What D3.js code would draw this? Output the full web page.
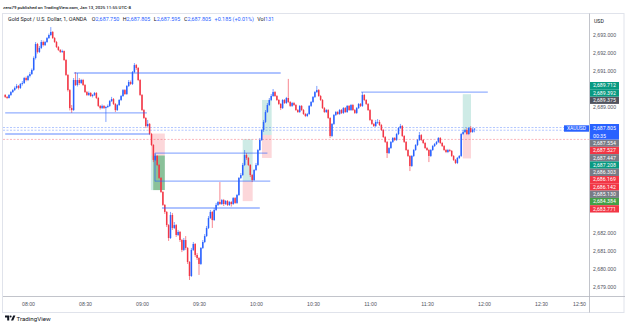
<!DOCTYPE html>
<html>
<head>
<meta charset="utf-8">
<script src="https://cdn.jsdelivr.net/npm/d3@7"></script>
<style>
  html, body { margin: 0; padding: 0; background: #fff; }
  svg { display: block; font-family: Roboto, "Liberation Sans", sans-serif; }
</style>
</head>
<body>
<svg id="chart" width="625" height="326"></svg>
<script>
var startTime = "07:48:00";
var firstOpen = 2689.67;

var closes = [
  2689.56, 2689.50, 2689.67, 2689.83, 2689.94, 2690.06, 2690.17, 2690.06, 2690.28, 2690.33,
  2690.61, 2690.50, 2690.72, 2690.83, 2691.06, 2691.72, 2692.50, 2692.06, 2692.28, 2692.61,
  2692.44, 2692.61, 2692.83, 2693.00, 2693.17, 2692.83, 2692.61, 2692.33, 2692.17, 2692.06,
  2692.11, 2691.61, 2690.78, 2689.94, 2688.94, 2688.83, 2690.50, 2690.22, 2690.50, 2690.33,
  2690.50, 2690.22, 2689.83, 2689.67, 2689.78, 2689.61, 2689.67, 2689.78, 2689.50, 2689.06,
  2688.94, 2689.06, 2688.94, 2689.00, 2689.06, 2689.33, 2689.44, 2689.17, 2688.83, 2689.11,
  2689.39, 2689.61, 2689.94, 2689.72, 2690.17, 2690.39, 2690.28, 2690.94, 2691.33, 2691.17,
  2690.50, 2689.67, 2688.83, 2688.39, 2687.94, 2688.06, 2687.50, 2686.89, 2686.06, 2686.28,
  2685.78, 2685.06, 2684.28, 2683.56, 2683.17, 2682.44, 2681.72, 2683.00, 2682.28, 2682.44,
  2681.89, 2682.06, 2681.61, 2681.06, 2681.61, 2681.17, 2680.39, 2679.61, 2681.06, 2681.39,
  2680.78, 2680.61, 2680.28, 2681.17, 2681.50, 2681.83, 2682.28, 2682.83, 2683.17, 2682.72,
  2683.28, 2683.56, 2683.72, 2683.61, 2683.83, 2683.61, 2683.78, 2683.56, 2683.72, 2683.61,
  2683.94, 2683.67, 2684.11, 2685.06, 2685.22, 2685.78, 2686.33, 2686.17, 2685.78, 2685.22,
  2684.94, 2685.50, 2685.78, 2686.61, 2687.17, 2687.72, 2688.17, 2688.72, 2689.11, 2689.39,
  2689.61, 2689.83, 2689.61, 2689.39, 2689.17, 2688.94, 2689.39, 2689.22, 2689.50, 2689.28,
  2689.06, 2689.22, 2689.11, 2688.83, 2688.72, 2689.06, 2688.83, 2688.61, 2688.50, 2688.61,
  2689.06, 2689.28, 2689.56, 2689.83, 2689.94, 2689.61, 2689.39, 2688.94, 2688.72, 2688.83,
  2688.39, 2687.39, 2688.06, 2688.56, 2688.72, 2688.61, 2688.83, 2688.67, 2688.94, 2688.72,
  2689.06, 2688.83, 2689.11, 2688.83, 2688.67, 2688.94, 2689.17, 2689.06, 2689.67, 2689.39,
  2689.17, 2688.83, 2688.28, 2688.06, 2687.94, 2688.17, 2688.17, 2688.00, 2687.72, 2687.33,
  2687.06, 2686.44, 2686.72, 2687.06, 2687.28, 2687.17, 2687.50, 2687.83, 2687.94, 2687.39,
  2687.06, 2686.61, 2686.28, 2685.72, 2686.28, 2686.61, 2686.89, 2687.17, 2687.44, 2687.17,
  2687.00, 2686.72, 2686.61, 2686.28, 2686.61, 2686.83, 2686.94, 2687.06, 2687.28, 2687.00,
  2686.83, 2686.61, 2686.50, 2686.61, 2686.56, 2686.28, 2686.06, 2685.89, 2686.17, 2686.28,
  2687.50, 2687.61, 2687.72, 2687.50, 2687.83, 2687.61, 2687.75, 2687.805
];

var highs = [
  2689.72, 2689.61, 2689.72, 2689.89, 2690.00, 2690.14, 2690.28, 2690.22, 2690.33, 2690.44,
  2690.67, 2690.69, 2690.78, 2690.94, 2691.14, 2691.81, 2692.61, 2692.56, 2692.39, 2692.72,
  2692.69, 2692.67, 2692.89, 2693.08, 2693.44, 2693.22, 2692.89, 2692.67, 2692.39, 2692.22,
  2692.19, 2692.14, 2691.67, 2690.83, 2690.00, 2689.11, 2690.61, 2690.94, 2690.89, 2690.61,
  2690.56, 2690.56, 2690.28, 2689.89, 2689.86, 2689.83, 2689.72, 2689.83, 2689.83, 2689.56,
  2689.11, 2689.14, 2689.11, 2689.06, 2689.14, 2689.39, 2689.56, 2689.50, 2689.22, 2689.17,
  2689.44, 2689.67, 2690.00, 2690.00, 2690.22, 2690.50, 2690.47, 2691.00, 2691.44, 2691.39,
  2691.22, 2690.56, 2689.72, 2688.89, 2688.44, 2688.28, 2688.11, 2687.56, 2686.94, 2686.39,
  2686.33, 2685.83, 2685.11, 2684.33, 2683.61, 2683.22, 2682.50, 2683.17, 2683.11, 2682.61,
  2682.50, 2682.17, 2682.11, 2681.67, 2681.72, 2681.83, 2681.22, 2680.44, 2681.17, 2681.50,
  2681.44, 2680.89, 2680.67, 2681.22, 2681.61, 2681.94, 2682.39, 2682.94, 2683.28, 2683.22,
  2683.39, 2683.67, 2683.78, 2684.83, 2683.89, 2683.89, 2683.83, 2683.83, 2683.78, 2683.78,
  2684.00, 2684.00, 2684.17, 2685.11, 2685.33, 2685.89, 2686.61, 2686.44, 2686.22, 2685.83,
  2685.28, 2685.56, 2685.89, 2686.67, 2687.28, 2687.78, 2688.28, 2688.83, 2689.22, 2689.50,
  2689.72, 2690.00, 2689.89, 2689.67, 2689.44, 2689.22, 2689.44, 2689.44, 2689.56, 2690.56,
  2689.33, 2689.28, 2689.28, 2689.17, 2688.89, 2689.11, 2689.11, 2688.89, 2688.67, 2688.67,
  2689.11, 2689.33, 2689.61, 2689.89, 2690.17, 2690.00, 2689.67, 2689.44, 2689.00, 2688.89,
  2688.89, 2688.44, 2688.11, 2688.61, 2688.78, 2688.78, 2688.89, 2688.89, 2689.00, 2689.00,
  2689.11, 2689.11, 2689.17, 2689.17, 2688.89, 2689.00, 2689.22, 2689.22, 2689.83, 2689.72,
  2689.44, 2689.22, 2688.89, 2688.33, 2688.11, 2688.28, 2688.33, 2688.28, 2688.06, 2687.78,
  2687.39, 2687.11, 2686.78, 2687.11, 2687.33, 2687.33, 2687.56, 2687.89, 2688.06, 2688.00,
  2687.44, 2687.11, 2686.67, 2686.33, 2686.33, 2686.67, 2686.94, 2687.22, 2687.61, 2687.50,
  2687.22, 2687.06, 2686.78, 2686.67, 2686.67, 2686.89, 2687.00, 2687.11, 2687.33, 2687.33,
  2687.06, 2686.89, 2686.67, 2686.67, 2686.67, 2686.61, 2686.33, 2686.11, 2686.22, 2686.33,
  2687.56, 2687.72, 2687.78, 2687.83, 2687.89, 2687.94, 2687.83, 2687.805
];

var lows = [
  2689.50, 2689.44, 2689.47, 2689.61, 2689.78, 2689.89, 2690.00, 2689.97, 2690.00, 2690.19,
  2690.28, 2690.42, 2690.44, 2690.64, 2690.78, 2691.00, 2691.64, 2691.97, 2692.00, 2692.22,
  2692.36, 2692.39, 2692.56, 2692.78, 2692.94, 2692.78, 2692.56, 2692.28, 2692.11, 2692.00,
  2692.00, 2691.56, 2690.72, 2689.86, 2688.81, 2688.67, 2688.78, 2690.17, 2690.14, 2690.22,
  2690.28, 2690.17, 2689.78, 2689.61, 2689.61, 2689.56, 2689.53, 2689.61, 2689.44, 2689.00,
  2688.86, 2688.89, 2688.89, 2688.17, 2688.94, 2689.00, 2689.28, 2689.11, 2688.72, 2688.78,
  2689.06, 2689.33, 2689.56, 2689.67, 2689.67, 2690.11, 2690.22, 2690.22, 2690.89, 2691.06,
  2690.44, 2689.61, 2688.78, 2688.33, 2687.83, 2687.89, 2687.44, 2686.83, 2685.94, 2686.00,
  2685.72, 2685.00, 2684.22, 2683.50, 2683.06, 2682.33, 2681.56, 2681.67, 2682.17, 2682.22,
  2681.78, 2681.83, 2681.50, 2680.94, 2681.00, 2681.06, 2680.28, 2679.39, 2679.56, 2681.00,
  2680.67, 2680.50, 2679.67, 2680.22, 2681.11, 2681.44, 2681.78, 2682.22, 2682.78, 2682.28,
  2682.67, 2683.22, 2683.50, 2683.56, 2683.56, 2683.50, 2683.56, 2683.50, 2683.50, 2683.47,
  2683.56, 2683.61, 2683.61, 2684.06, 2685.00, 2685.17, 2685.72, 2686.06, 2685.72, 2685.11,
  2684.83, 2684.89, 2685.44, 2685.72, 2686.56, 2687.11, 2687.61, 2688.11, 2688.67, 2689.06,
  2689.33, 2689.56, 2689.56, 2689.33, 2689.11, 2688.83, 2688.89, 2689.17, 2689.17, 2689.22,
  2689.00, 2689.00, 2689.06, 2688.78, 2688.67, 2688.67, 2688.78, 2688.56, 2688.44, 2688.44,
  2688.56, 2689.00, 2689.22, 2689.50, 2689.78, 2689.56, 2689.33, 2688.89, 2688.67, 2688.67,
  2688.33, 2687.28, 2687.33, 2688.00, 2688.50, 2688.56, 2688.56, 2688.61, 2688.61, 2688.67,
  2688.67, 2688.78, 2688.78, 2688.78, 2688.61, 2688.61, 2688.89, 2689.00, 2689.00, 2689.33,
  2689.11, 2688.78, 2688.22, 2688.00, 2687.89, 2687.89, 2688.06, 2687.94, 2687.67, 2687.28,
  2687.00, 2686.17, 2686.39, 2686.67, 2687.00, 2687.11, 2687.11, 2687.44, 2687.78, 2687.33,
  2687.00, 2686.56, 2686.22, 2685.44, 2685.67, 2686.22, 2686.56, 2686.83, 2687.11, 2687.11,
  2686.94, 2686.67, 2686.56, 2685.94, 2686.22, 2686.56, 2686.78, 2686.89, 2687.00, 2686.94,
  2686.78, 2686.56, 2686.44, 2686.44, 2686.50, 2686.22, 2686.00, 2685.83, 2685.83, 2686.11,
  2686.22, 2687.44, 2687.56, 2687.44, 2687.44, 2687.56, 2687.56, 2687.595
];

var priceTicks = [2693, 2692, 2691, 2690, 2689, 2688, 2687, 2686, 2685, 2684, 2683, 2682, 2681, 2680, 2679];
var timeTicks = ["08:00", "08:30", "09:00", "09:30", "10:00", "10:30", "11:00", "11:30", "12:00", "12:30", "12:50"];

// drawn horizontal rays
var rays = [
  {from: "07:48:00", to: "09:02:36", price: 2688.67},
  {from: "07:48:00", to: "09:04:10", price: 2687.50},
  {from: "08:24:10", to: "10:13:00", price: 2690.89},
  {from: "09:06:50", to: "10:06:00", price: 2686.44},
  {from: "09:06:50", to: "10:07:30", price: 2684.88},
  {from: "09:10:30", to: "10:02:00", price: 2683.39},
  {from: "10:55:20", to: "12:02:00", price: 2689.83}
];
var verticals = [{at: "09:06:50", top: 2686.44, bottom: 2684.88}];

// full-width dashed levels
var dashedLevels = [
  {price: 2687.86, side: "up"},
  {price: 2687.71, side: "up"},
  {price: 2687.20, side: "down"}
];

// long / short position tools
var positions = [
  {from: "09:04:40", to: "09:12:00", entry: 2686.303, target: 2684.384, stop: 2687.527},
  {from: "09:53:00", to: "09:58:15", entry: 2684.88, target: 2687.208, stop: 2683.771},
  {from: "10:03:10", to: "10:08:15", entry: 2687.447, target: 2689.392, stop: 2686.169},
  {from: "11:48:50", to: "11:53:10", entry: 2687.554, target: 2689.712, stop: 2686.142}
];
var boxes = [{from: "09:05:55", to: "09:12:00", top: 2686.303, bottom: 2684.384}];

// price scale tags
var tagPrices = [2689.712, 2689.392, 2689.375, 2687.554, 2687.527, 2687.447, 2687.208,
                 2686.303, 2686.169, 2686.142, 2685.130, 2684.384, 2683.771];
var tagKinds = ["target", "target", "dark", "entry", "stop", "entry", "target",
                "entry", "stop", "stop", "entry", "green", "stop"];
var countdown = "00:35";

// legend: symbol line and the last bar's values
var legendTitle = "Gold Spot / U.S. Dollar, 1, OANDA";
var legendItems = [["O", "2,687.750"], ["H", "2,687.805"], ["L", "2,687.595"], ["C", "2,687.805"],
                   ["", "+0.185 (+0.01%)"], ["Vol", "131"]];

var upColor = "#2962ff", downColor = "#f23645";
var tagColor = {target: "#089981", green: "#43a047", stop: "#f23645", entry: "#787b86", dark: "#50535e"};

var svg = d3.select("#chart");
var W = 625, plotRight = 589, plotTop = 14, plotBottom = 296.5;

var parseTime = d3.timeParse("%H:%M:%S");
var hm = function(s) { return s.length === 5 ? parseTime(s + ":00") : parseTime(s); };

var x = d3.scaleTime().domain([hm("08:00"), hm("12:50")]).range([28, 579]);
var y = d3.scaleLinear().domain([2679, 2693]).range([287, 35]);

var t0 = hm(startTime);
var bars = closes.map(function(c, i) {
  return {t: d3.timeMinute.offset(t0, i), o: i ? closes[i - 1] : firstOpen, h: highs[i], l: lows[i], c: c};
});
var last = bars[bars.length - 1];

// frame
svg.append("rect").attr("x", 2.5).attr("y", 13.5).attr("width", W - 3.5).attr("height", 299)
  .attr("fill", "none").attr("stroke", "#e0e3eb").attr("stroke-width", 1);

svg.append("text").attr("x", 3).attr("y", 8.8).attr("font-size", 4.4).attr("fill", "#131722")
  .attr("font-weight", 500)
  .text("zero79 published on TradingView.com, Jan 13, 2025 11:55 UTC-8");

var defs = svg.append("defs");
defs.append("clipPath").attr("id", "plot").append("rect")
  .attr("x", 3).attr("y", plotTop).attr("width", plotRight - 3).attr("height", plotBottom - plotTop);

var plot = svg.append("g").attr("clip-path", "url(#plot)");

// position tools
positions.forEach(function(p) {
  var x0 = x(hm(p.from)), x1 = x(hm(p.to));
  plot.append("rect").attr("x", x0).attr("width", x1 - x0)
    .attr("y", y(Math.max(p.entry, p.target))).attr("height", Math.abs(y(p.entry) - y(p.target)))
    .attr("fill", "rgba(8,153,129,0.2)");
  plot.append("rect").attr("x", x0).attr("width", x1 - x0)
    .attr("y", y(Math.max(p.entry, p.stop))).attr("height", Math.abs(y(p.entry) - y(p.stop)))
    .attr("fill", "rgba(242,54,69,0.2)");
});
boxes.forEach(function(b) {
  var x0 = x(hm(b.from)), x1 = x(hm(b.to));
  plot.append("rect").attr("x", x0).attr("width", x1 - x0)
    .attr("y", y(b.top)).attr("height", y(b.bottom) - y(b.top))
    .attr("fill", "rgba(56,142,60,0.45)");
});

// dashed levels
plot.selectAll("line.level").data(dashedLevels).join("line").attr("class", "level")
  .attr("x1", 3).attr("x2", plotRight)
  .attr("y1", function(d) { return y(d.price); }).attr("y2", function(d) { return y(d.price); })
  .attr("stroke", function(d) { return d.side === "up" ? upColor : downColor; })
  .attr("stroke-opacity", 0.45).attr("stroke-width", 0.8).attr("stroke-dasharray", "2,1.5");

// candles
var g = plot.append("g");
var bar = g.selectAll("g").data(bars).join("g")
  .attr("fill", function(d) { return d.c >= d.o ? upColor : downColor; })
  .attr("stroke", function(d) { return d.c >= d.o ? upColor : downColor; });
bar.append("line")
  .attr("x1", function(d) { return x(d.t); }).attr("x2", function(d) { return x(d.t); })
  .attr("y1", function(d) { return y(d.h); }).attr("y2", function(d) { return y(d.l); })
  .attr("stroke-width", 0.6);
bar.append("rect").attr("stroke", "none")
  .attr("x", function(d) { return x(d.t) - 0.75; }).attr("width", 1.5)
  .attr("y", function(d) { return y(Math.max(d.o, d.c)); })
  .attr("height", function(d) { return Math.max(0.7, Math.abs(y(d.o) - y(d.c))); });

// rays
plot.selectAll("line.ray").data(rays).join("line").attr("class", "ray")
  .attr("x1", function(d) { return x(hm(d.from)); }).attr("x2", function(d) { return x(hm(d.to)); })
  .attr("y1", function(d) { return y(d.price); }).attr("y2", function(d) { return y(d.price); })
  .attr("stroke", upColor).attr("stroke-opacity", 0.5).attr("stroke-width", 1.3);
plot.selectAll("line.vert").data(verticals).join("line").attr("class", "vert")
  .attr("x1", function(d) { return x(hm(d.at)); }).attr("x2", function(d) { return x(hm(d.at)); })
  .attr("y1", function(d) { return y(d.top); }).attr("y2", function(d) { return y(d.bottom); })
  .attr("stroke", upColor).attr("stroke-opacity", 0.5).attr("stroke-width", 1.3);

// legend, laid out item by item
var legend = svg.append("g").attr("font-size", 5.4);
var lx = 8;
var title = legend.append("text").attr("x", lx).attr("y", 21).attr("fill", "#131722").text(legendTitle);
lx += title.node().getComputedTextLength() + 5;
legendItems.forEach(function(it) {
  var t = legend.append("text").attr("x", lx).attr("y", 21);
  t.append("tspan").attr("fill", "#131722").text(it[0]);
  t.append("tspan").attr("fill", upColor).text(it[1]);
  lx += t.node().getComputedTextLength() + 3.5;
});

// axes
svg.append("line").attr("x1", plotRight + 0.5).attr("x2", plotRight + 0.5).attr("y1", 13.5).attr("y2", 312.5)
  .attr("stroke", "#b2b5be").attr("stroke-width", 0.8);
svg.append("line").attr("x1", 3).attr("x2", W).attr("y1", plotBottom).attr("y2", plotBottom)
  .attr("stroke", "#b2b5be").attr("stroke-width", 0.8);

// price tags on the scale (stacked away from the last-price tag)
var tagH = 7.3, tagX = plotRight + 1, tagW = 29;
var curY = y(last.c), curTop = curY - 4.5, curBottom = curTop + 15.5;
var tags = tagPrices.map(function(p, i) { return {price: p, kind: tagKinds[i]}; });
var above = tags.filter(function(t) { return t.price > last.c; }).sort(function(a, b) { return a.price - b.price; });
var below = tags.filter(function(t) { return t.price < last.c; }).sort(function(a, b) { return b.price - a.price; });
var edge = curTop;
above.forEach(function(t) { t.y = Math.min(y(t.price), edge - tagH / 2); edge = t.y - tagH / 2; });
edge = curBottom;
below.forEach(function(t) { t.y = Math.max(y(t.price), edge + tagH / 2); edge = t.y + tagH / 2; });

var covered = [[curTop, curBottom]].concat(above.concat(below).map(function(t) {
  return [t.y - tagH / 2, t.y + tagH / 2];
}));
var visibleTicks = priceTicks.filter(function(p) {
  var ty = y(p);
  return !covered.some(function(c) { return ty + 2.6 > c[0] && ty - 2.6 < c[1]; });
});

var yAxis = svg.append("g").attr("transform", "translate(" + (plotRight + 1) + ",0)")
  .call(d3.axisRight(y).tickValues(visibleTicks).tickFormat(d3.format(",.3f")).tickSize(0).tickPadding(3));
yAxis.select(".domain").remove();
yAxis.selectAll("text").attr("font-size", 5.2).attr("fill", "#50535e").attr("font-family", null);

svg.append("text").attr("x", 594).attr("y", 23).attr("font-size", 5.2).attr("fill", "#131722").text("USD");

var xAxis = svg.append("g").attr("transform", "translate(0," + plotBottom + ")")
  .call(d3.axisBottom(x).tickValues(timeTicks.map(hm)).tickFormat(d3.timeFormat("%H:%M")).tickSize(0).tickPadding(6));
xAxis.select(".domain").remove();
xAxis.selectAll("text").attr("font-size", 5.2).attr("fill", "#50535e").attr("font-family", null);

var tagG = svg.append("g").selectAll("g").data(above.concat(below)).join("g");
tagG.append("rect").attr("x", tagX).attr("width", tagW)
  .attr("y", function(d) { return d.y - tagH / 2; }).attr("height", tagH)
  .attr("fill", function(d) { return tagColor[d.kind]; });
tagG.append("text").attr("x", tagX + 3).attr("y", function(d) { return d.y; }).attr("dy", "0.35em")
  .attr("font-size", 5.2).attr("fill", "#fff").text(function(d) { return d3.format(",.3f")(d.price); });

svg.append("rect").attr("x", tagX).attr("width", tagW).attr("y", curTop).attr("height", curBottom - curTop)
  .attr("fill", upColor);
svg.append("text").attr("x", tagX + 3).attr("y", curY).attr("dy", "0.35em").attr("font-size", 5.2)
  .attr("fill", "#fff").text(d3.format(",.3f")(last.c));
svg.append("text").attr("x", tagX + 3).attr("y", curY + 7.5).attr("dy", "0.35em").attr("font-size", 5.2)
  .attr("fill", "#fff").text(countdown);
svg.append("rect").attr("x", plotRight - 25).attr("width", 25).attr("y", curY - 3.2).attr("height", 6.4)
  .attr("fill", upColor);
svg.append("text").attr("x", plotRight - 12.5).attr("y", curY).attr("dy", "0.35em").attr("text-anchor", "middle")
  .attr("font-size", 5).attr("fill", "#fff").text("XAUUSD");

// TradingView mark
var logo = svg.append("g").attr("fill", "#131722");
logo.append("path").attr("d", "M5,315.5h4.2v5h-2v-3h-2.2z");
logo.append("circle").attr("cx", 10.6).attr("cy", 316.5).attr("r", 1);
logo.append("path").attr("d", "M11,320.5l2.2,-5h2.2l-2.2,5z");
svg.append("text").attr("x", 16.5).attr("y", 320.5).attr("font-size", 6.2).attr("fill", "#131722")
  .text("TradingView");
</script>
</body>
</html>
